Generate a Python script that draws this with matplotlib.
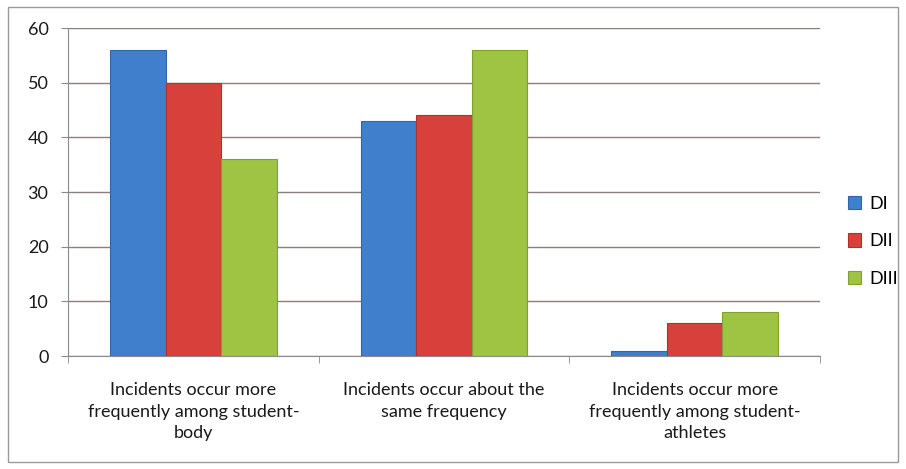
import numpy as np
import matplotlib.pyplot as plt
from matplotlib.patches import Rectangle

categories = ["Incidents occur more\nfrequently among student-\nbody",
              "Incidents occur about the\nsame frequency",
              "Incidents occur more\nfrequently among student-\nathletes"]
series_names = ["DI", "DII", "DIII"]
di_values = [56, 43, 1]
dii_values = [50, 44, 6]
diii_values = [36, 56, 8]
yticks = [0, 10, 20, 30, 40, 50, 60]

colors = ["#3f7fcc", "#d8413b", "#9fc444"]
edges = ["#2f66a8", "#b0302b", "#7ea132"]

plt.rcParams['font.family'] = ['Lato', 'DejaVu Sans']

fig = plt.figure(figsize=(9.06, 4.69), dpi=100)
fig.patches.append(Rectangle((8 / 906, 7 / 469), 890 / 906, 455 / 469,
                             transform=fig.transFigure, fill=False,
                             edgecolor="#9a9a9a", linewidth=1.0))
ax = fig.add_axes([68 / 906, 113 / 469, 752 / 906, 328 / 469])

x = np.arange(len(categories))
w = 0.222
for i, vals in enumerate([di_values, dii_values, diii_values]):
    ax.bar(x + (i - 1) * w, vals, width=w, color=colors[i], edgecolor=edges[i],
           linewidth=0.8, label=series_names[i], zorder=3)

ax.set_xlim(-0.5, 2.5)
ax.set_ylim(0, 60)
ax.set_yticks(yticks)
ax.yaxis.grid(True, color="#8a7f7a", linewidth=1.0, zorder=0)
ax.set_axisbelow(True)

ax.set_xticks(x)
ax.set_xticklabels(categories, fontsize=13, color="#1a1a1a", linespacing=1.42)
ax.set_xticks([-0.5, 0.5, 1.5, 2.5], minor=True)
ax.tick_params(axis="x", which="major", length=0, pad=19)
ax.tick_params(axis="x", which="minor", length=5, color="#8a8a8a")
ax.tick_params(axis="y", length=5, color="#8a8a8a", labelsize=13,
               labelcolor="#1a1a1a", pad=9)

for s in ["top", "right"]:
    ax.spines[s].set_visible(False)
for s in ["left", "bottom"]:
    ax.spines[s].set_color("#8a8a8a")

ax.legend(loc="center left", bbox_to_anchor=(1.015, 0.35), frameon=False,
          fontsize=13, handlelength=0.75, handleheight=0.75,
          labelspacing=1.2, handletextpad=0.45)

fig.savefig("out.png", dpi=100)
